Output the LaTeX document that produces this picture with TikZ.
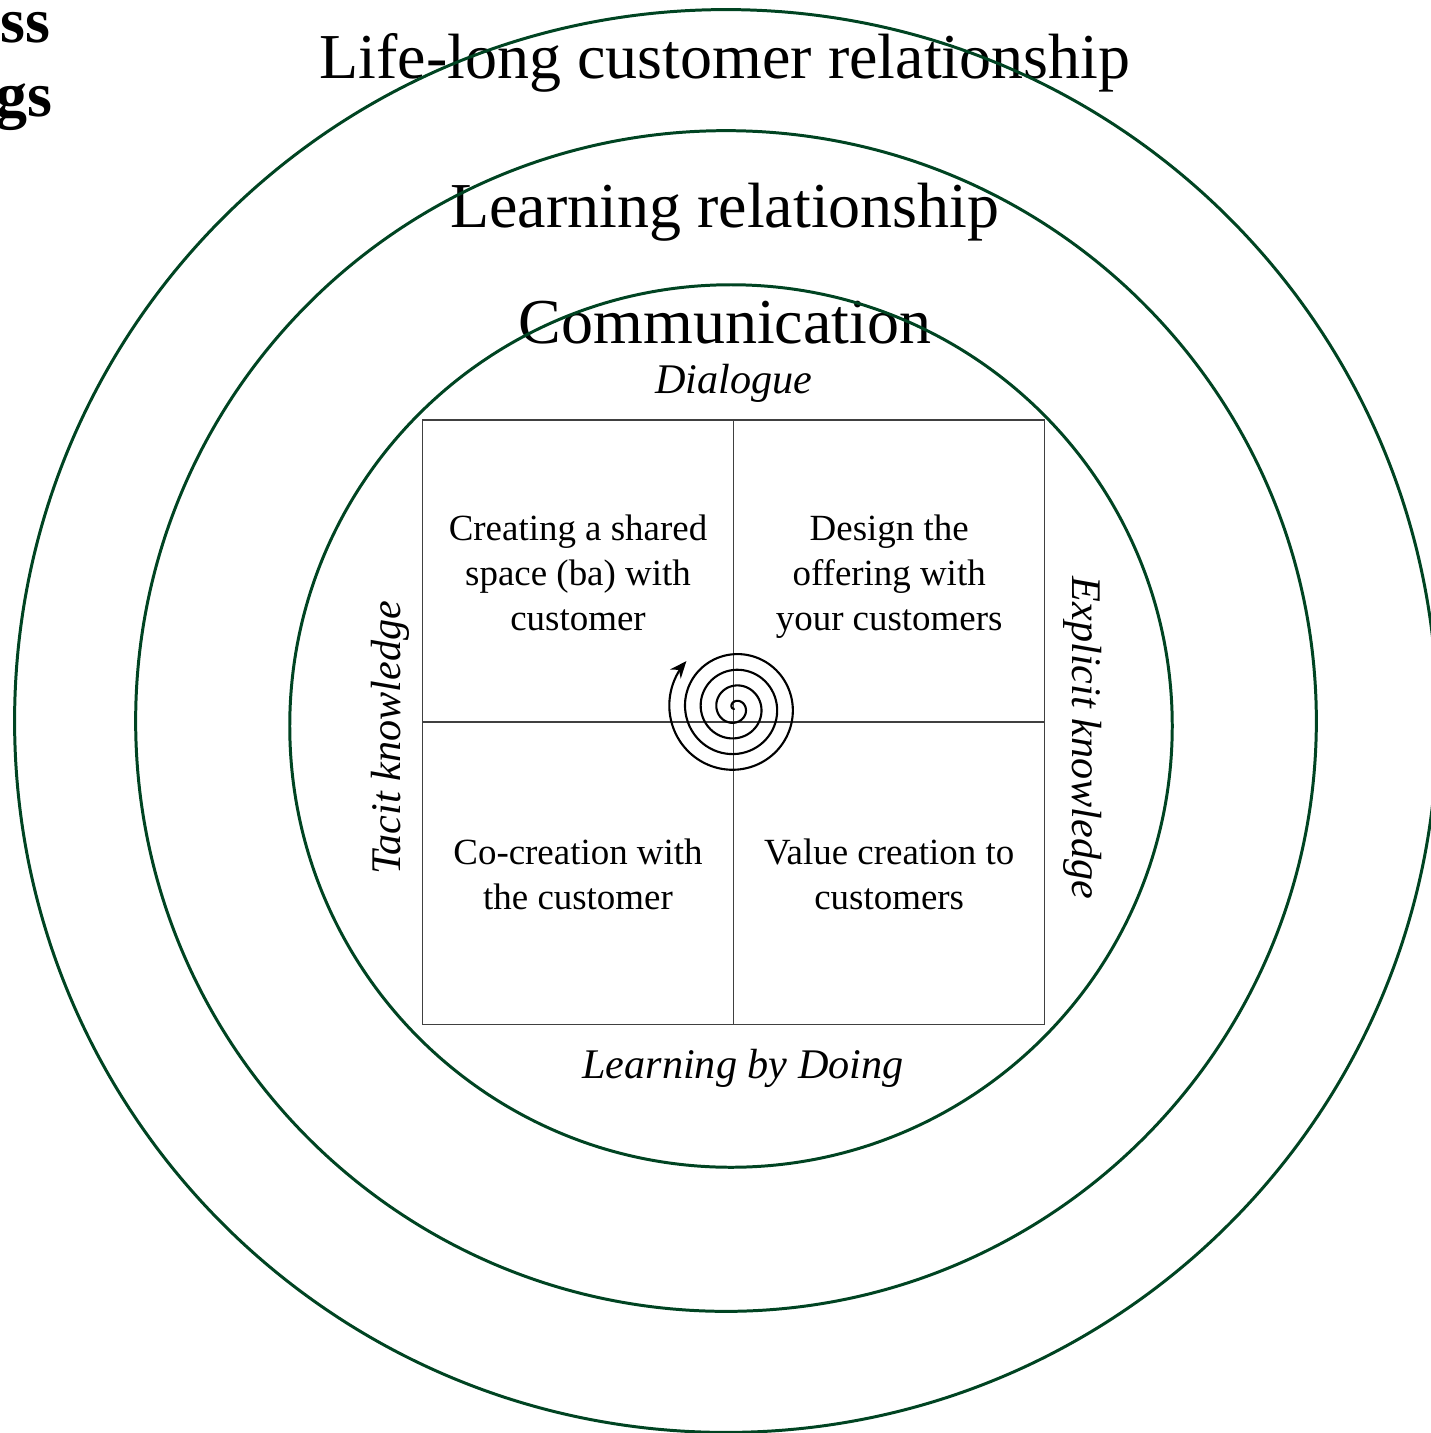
\documentclass[tikz,border=0pt]{standalone}
\usepackage{fontspec}
\setmainfont{Liberation Serif}
\usetikzlibrary{positioning}
\usetikzlibrary{arrows.meta}
\definecolor{ringgreen}{RGB}{0,68,34}
\tikzset{>={Stealth[length=0.17cm, width=0.14cm]}}
\tikzset{ring/.style={draw=ringgreen, circle, line width=0.85pt, inner sep=0pt}}
\tikzset{cell/.style={draw=black!75, line width=0.4pt, minimum width=3.11cm, minimum height=3.02cm, align=center, inner sep=0pt, font=\fontsize{10.5}{12.8}\selectfont}}
\tikzset{big/.style={anchor=base, inner sep=0pt, font=\fontsize{18.2}{21}\selectfont}}
\tikzset{axis/.style={anchor=base, inner sep=0pt, font=\fontsize{12}{14}\selectfont\itshape}}
\newcommand{\topline}{\rule{0pt}{0.415cm}}

\begin{document}
\begin{tikzpicture}[x=0.01cm, y=-0.01cm, on grid]
        \useasboundingbox (0,0) rectangle (1431,1433);

        \node[big, anchor=base east, font=\fontsize{18.2}{21}\selectfont\bfseries] (ss) at (51,42) {ss};
        \node[big, anchor=base east, font=\fontsize{18.2}{21}\selectfont\bfseries] (gs) at (53,116) {gs};

        \node[big] (life) at (725,78) {Life-long customer relationship};
        \node[big] (learn) at (725,227) {Learning relationship};
        \node[big] (comm) at (725,343) {Communication};

        \node[axis] (dlg) at (734,393) {Dialogue};
        \node[axis] (lbd) at (743,1078) {Learning by Doing};
        \node[axis, rotate=90] (tac) at (400,738) {Tacit knowledge};
        \node[axis, rotate=-90] (exp) at (1072,738) {Explicit knowledge};

        \node[cell] (ba) at (578,571) {\topline Creating a shared\\space (ba) with\\customer\strut};
        \node[cell, right=3.11cm of ba] (design) {\topline Design the\\offering with\\your customers\strut};
        \node[cell, below=3.02cm of ba] (cocr) {\topline Co-creation with\\the customer\strut};
        \node[cell, below=3.02cm of design] (value) {\topline Value creation to\\customers\strut};

        % spiral, clockwise outwards
        \draw[->, line width=0.6pt] plot[domain=130:1664, samples=300, smooth, variable=\t]
          ({735+(0.04361*\t-5)*cos(\t)}, {708+(0.04361*\t-5)*sin(\t)});

        \node[ring, minimum size=14.22cm] (rlife) at (726,721) {};
        \node[ring, minimum size=11.8cm] (rlearn) at (726,721) {};
        \node[ring, minimum size=8.82cm] (rcomm) at (731,726) {};
    \end{tikzpicture}
\end{document}
